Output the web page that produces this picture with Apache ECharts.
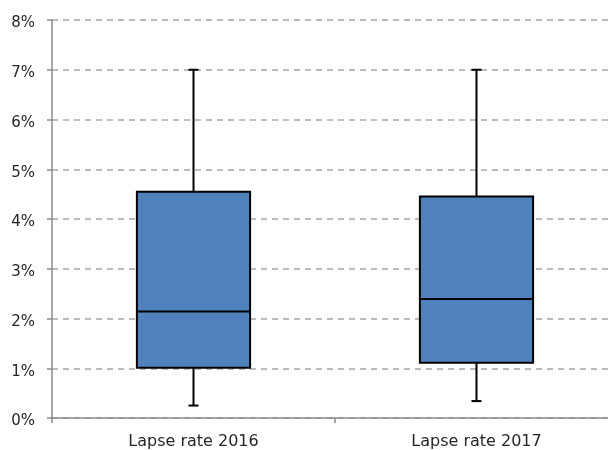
<!DOCTYPE html>
<html>
<head>
<meta charset="utf-8">
<script src="https://cdn.jsdelivr.net/npm/echarts@6/dist/echarts.min.js"></script>
<style>html,body{margin:0;padding:0;background:#fff}#c{width:608px;height:450px}</style>
</head>
<body>
<div id="c"></div>
<script>
const categories = ['Lapse rate 2016', 'Lapse rate 2017'];
const whiskerLow = [0.25, 0.34];
const q1 = [1.01, 1.11];
const median = [2.14, 2.39];
const q3 = [4.55, 4.45];
const whiskerHigh = [7.0, 7.0];
const yTicks = [0, 1, 2, 3, 4, 5, 6, 7, 8];

const catIdx = categories.map((c, i) => i);
const boundaries = [-0.5, 0.5, 1.5];
const data = categories.map((c, i) => [i, whiskerLow[i], q1[i], median[i], q3[i], whiskerHigh[i]]);

const chart = echarts.init(document.getElementById('c'), null, {renderer: 'canvas'});
chart.setOption({
  animation: false,
  grid: {left: 52, top: 20, height: 402, right: 0, containLabel: false},
  xAxis: {
    type: 'value',
    min: -0.5,
    max: 1.4647,
    axisLine: {show: true, onZero: false, lineStyle: {color: '#8c8c8c', width: 1.5}},
    axisTick: {show: true, length: 5, customValues: boundaries, lineStyle: {color: '#8c8c8c', width: 1.5}},
    axisLabel: {margin: 16, fontFamily: 'DejaVu Sans', fontSize: 16, color: '#262626',
      customValues: catIdx, formatter: v => categories[Math.round(v)] || ''},
    splitLine: {show: false}
  },
  yAxis: {
    type: 'value',
    min: yTicks[0],
    max: yTicks[yTicks.length - 1],
    interval: 1,
    axisLine: {show: true, onZero: false, lineStyle: {color: '#8c8c8c', width: 1.5}},
    axisTick: {show: true, length: 5, lineStyle: {color: '#8c8c8c', width: 1.5}},
    axisLabel: {margin: 17, fontFamily: 'DejaVu Sans', fontSize: 15, color: '#262626', verticalAlign: 'top', lineHeight: 7, formatter: v => v + '%'},
    splitLine: {show: true, lineStyle: {color: '#a6a6a6', width: 1.5, type: [6, 5]}}
  },
  series: [{
    type: 'custom',
    data: data,
    encode: {x: 0, y: [1, 2, 3, 4, 5]},
    renderItem: function (params, api) {
      const idx = api.value(0);
      const pLow = api.coord([idx, api.value(1)]);
      const pQ1 = api.coord([idx, api.value(2)]);
      const pMed = api.coord([idx, api.value(3)]);
      const pQ3 = api.coord([idx, api.value(4)]);
      const pHigh = api.coord([idx, api.value(5)]);
      const band = api.size([1, 0])[0];
      const bw = band * 0.4;
      const cw = 10;
      const x = pQ1[0];
      const ls = {stroke: '#000', lineWidth: 2};
      return {
        type: 'group',
        children: [
          {type: 'line', shape: {x1: x, y1: pQ3[1], x2: x, y2: pHigh[1]}, style: ls},
          {type: 'line', shape: {x1: x, y1: pQ1[1], x2: x, y2: pLow[1]}, style: ls},
          {type: 'line', shape: {x1: x - cw / 2, y1: pHigh[1], x2: x + cw / 2, y2: pHigh[1]}, style: ls},
          {type: 'line', shape: {x1: x - cw / 2, y1: pLow[1], x2: x + cw / 2, y2: pLow[1]}, style: ls},
          {type: 'rect', shape: {x: x - bw / 2, y: pQ3[1], width: bw, height: pQ1[1] - pQ3[1]},
            style: {fill: '#4f81bd', stroke: '#000', lineWidth: 2}},
          {type: 'line', shape: {x1: x - bw / 2, y1: pMed[1], x2: x + bw / 2, y2: pMed[1]}, style: ls}
        ]
      };
    }
  }]
});
</script>
</body>
</html>
